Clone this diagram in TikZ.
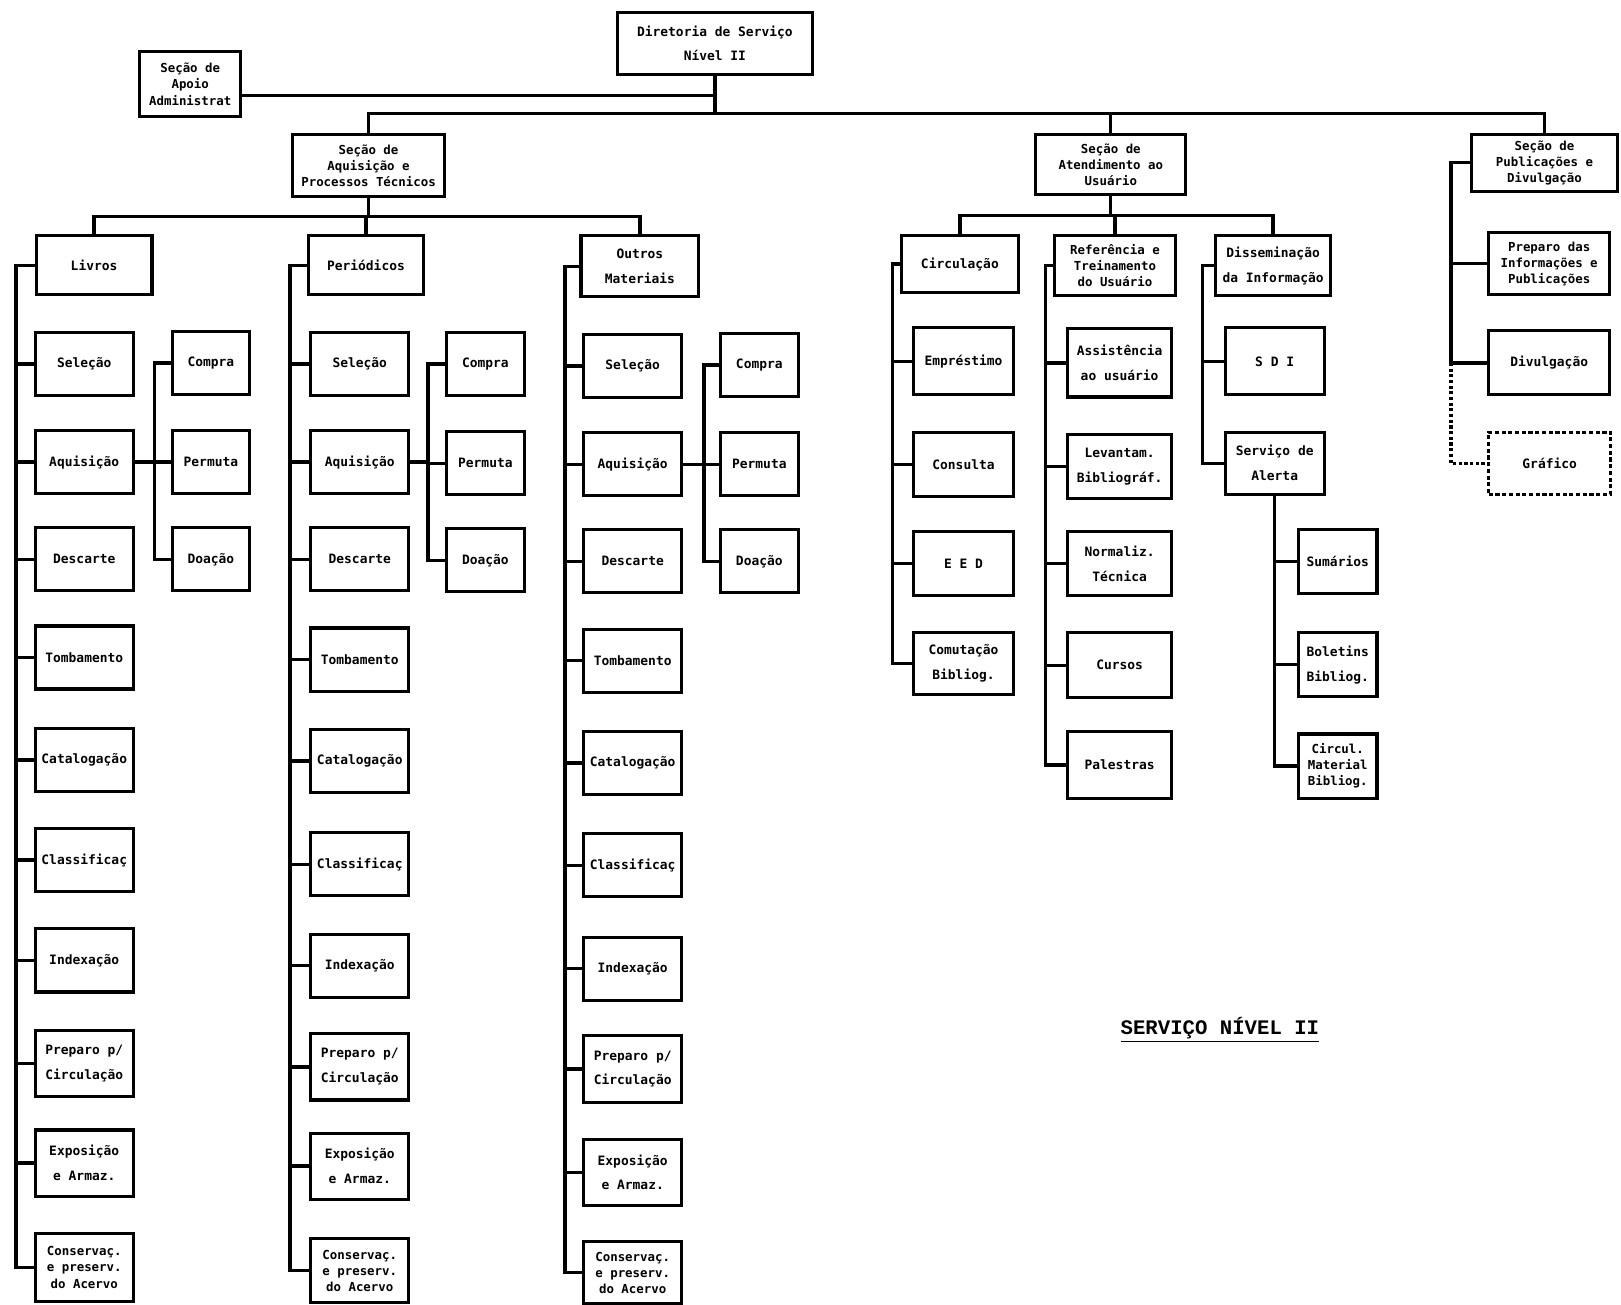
\documentclass[tikz,border=0pt]{standalone}
\usepackage{fontspec}
\usepackage{tikz}
\usetikzlibrary{positioning, calc}
\newfontfamily\printfont{DejaVu Sans Mono}
\newfontfamily\titlefont{Liberation Mono}

\begin{document}
\begin{tikzpicture}[
    x=1pt, y=-1pt,
    box/.style={
        draw,
        line width=3pt,
        fill=white,
        align=center,
        inner sep=2pt,
        minimum height=61pt,
        font=\printfont\bfseries\fontsize{12.5}{24}\selectfont
    },
    densebox/.style={
        box,
        font=\printfont\bfseries\fontsize{12}{15.5}\selectfont
    },
    colitem/.style={box, minimum width=95pt},
    subitem/.style={box, minimum width=75pt},
    dashbox/.style={
        box,
        dash pattern=on 4pt off 2.5pt
    },
    link/.style={line width=3.2pt},
    dotlink/.style={line width=3.2pt, dash pattern=on 3pt off 2.5pt},
    title/.style={font=\titlefont\bfseries\fontsize{20}{24}\selectfont}
]
    \useasboundingbox (0,0) rectangle (1568,1262);

    % Top level
    \node[box, minimum width=189pt, minimum height=60pt] (dir) at (691.5, 42) {Diretoria de Serviço\\Nível  II};
    \node[densebox, minimum width=98pt, minimum height=63pt] (apoio) at (184, 81.5) {Seção de\\Apoio\\Administrat};

    % Sections
    \node[densebox, minimum width=147pt, minimum height=60pt] (aqsec) at (356.5, 160) {Seção de\\Aquisição e\\Processos Técnicos};
    \node[densebox, minimum width=145pt, minimum height=58pt] (atsec) at (1074.5, 159) {Seção de\\Atendimento ao\\Usuário};
    \node[densebox, minimum width=142pt, minimum height=55pt] (pubsec) at (1494, 157.5) {Seção de\\Publicações e\\Divulgação};

    % Aquisição e Processos Técnicos
    \node[box, minimum width=112pt, minimum height=57pt] (livros) at (91, 256.5) {Livros};
    \node[box, minimum width=112pt, minimum height=57pt] (period) at (354, 256.5) {Periódicos};
    \node[box, minimum width=114pt, minimum height=59pt] (outros) at (619, 257.5) {Outros\\Materiais};

    % Livros
    \node[colitem] (lvsel) at (81.5, 352) {Seleção};
    \node[colitem] (lvaqu) at (81.5, 447) {Aquisição};
    \node[colitem] (lvdes) at (81.5, 541) {Descarte};
    \node[colitem] (lvtom) at (81.5, 636) {Tombamento};
    \node[colitem] (lvcat) at (81.5, 735) {Catalogação};
    \node[colitem] (lvcla) at (81.5, 832) {Classificaç};
    \node[colitem] (lvind) at (81.5, 929) {Indexação};
    \node[colitem, minimum height=64pt] (lvpre) at (81.5, 1029) {Preparo p/\\Circulação};
    \node[colitem, minimum height=64pt] (lvexp) at (81.5, 1125) {Exposição\\e Armaz.};
    \node[colitem, densebox, minimum height=66pt] (lvcon) at (81.5, 1226) {Conservaç.\\e preserv.\\do Acervo};
    \node[subitem] (lvcompra) at (204, 351) {Compra};
    \node[subitem] (lvpermuta) at (204, 447) {Permuta};
    \node[subitem] (lvdoacao) at (204, 541) {Doação};

    % Periódicos
    \node[colitem] (pdsel) at (348, 352) {Seleção};
    \node[colitem] (pdaqu) at (348, 447) {Aquisição};
    \node[colitem] (pddes) at (348, 541) {Descarte};
    \node[colitem] (pdtom) at (348, 638) {Tombamento};
    \node[colitem] (pdcat) at (348, 736) {Catalogação};
    \node[colitem] (pdcla) at (348, 836) {Classificaç};
    \node[colitem] (pdind) at (348, 934) {Indexação};
    \node[colitem, minimum height=64pt] (pdpre) at (348, 1032) {Preparo p/\\Circulação};
    \node[colitem, minimum height=64pt] (pdexp) at (348, 1128) {Exposição\\e Armaz.};
    \node[colitem, densebox, minimum height=62pt] (pdcon) at (348, 1229) {Conservaç.\\e preserv.\\do Acervo};
    \node[subitem] (pdcompra) at (469.5, 352) {Compra};
    \node[subitem] (pdpermuta) at (469.5, 448) {Permuta};
    \node[subitem] (pddoacao) at (469.5, 542) {Doação};

    % Outros Materiais
    \node[colitem] (otsel) at (612, 354) {Seleção};
    \node[colitem] (otaqu) at (612, 449) {Aquisição};
    \node[colitem] (otdes) at (612, 543) {Descarte};
    \node[colitem] (ottom) at (612, 639) {Tombamento};
    \node[colitem] (otcat) at (612, 738) {Catalogação};
    \node[colitem] (otcla) at (612, 837) {Classificaç};
    \node[colitem] (otind) at (612, 937) {Indexação};
    \node[colitem, minimum height=64pt] (otpre) at (612, 1034) {Preparo p/\\Circulação};
    \node[colitem, minimum height=64pt] (otexp) at (612, 1134) {Exposição\\e Armaz.};
    \node[colitem, densebox, minimum height=60pt] (otcon) at (612, 1231) {Conservaç.\\e preserv.\\do Acervo};
    \node[subitem] (otcompra) at (734.5, 353) {Compra};
    \node[subitem] (otpermuta) at (734.5, 449) {Permuta};
    \node[subitem] (otdoacao) at (734.5, 543) {Doação};

    % Atendimento ao Usuário
    \node[box, minimum width=113pt, minimum height=55pt] (circ) at (928.5, 255.5) {Circulação};
    \node[densebox, minimum width=117pt, minimum height=58pt] (refer) at (1078.5, 257) {Referência e\\Treinamento\\do Usuário};
    \node[box, minimum width=111pt, minimum height=58pt] (dissem) at (1231.5, 257) {Disseminação\\da Informação};

    \node[box, minimum width=96pt, minimum height=65pt] (emprest) at (932, 349.5) {Empréstimo};
    \node[box, minimum width=96pt, minimum height=62pt] (consulta) at (932, 449) {Consulta};
    \node[box, minimum width=96pt, minimum height=62pt] (eed) at (932, 545) {E E D};
    \node[box, minimum width=96pt, minimum height=60pt] (comut) at (932, 642) {Comutação\\Bibliog.};

    \node[box, minimum width=100pt, minimum height=66pt] (assist) at (1083, 351) {Assistência\\ao usuário};
    \node[box, minimum width=100pt, minimum height=62pt] (levant) at (1083, 451) {Levantam.\\Bibliográf.};
    \node[box, minimum width=100pt, minimum height=62pt] (normal) at (1083, 545) {Normaliz.\\Técnica};
    \node[box, minimum width=100pt, minimum height=63pt] (cursos) at (1083, 643.5) {Cursos};
    \node[box, minimum width=100pt, minimum height=64pt] (palest) at (1083, 740) {Palestras};

    \node[box, minimum width=96pt, minimum height=65pt] (sdi) at (1233, 349.5) {S D I};
    \node[box, minimum width=96pt, minimum height=60pt] (alerta) at (1233, 448) {Serviço de\\Alerta};

    \node[subitem, minimum width=76pt, minimum height=62pt] (sumarios) at (1294, 543) {Sumários};
    \node[subitem, minimum width=76pt, minimum height=62pt] (boletins) at (1294, 643) {Boletins\\Bibliog.};
    \node[subitem, densebox, minimum width=76pt, minimum height=62pt] (circmat) at (1294, 741) {Circul.\\Material\\Bibliog.};

    % Publicações e Divulgação
    \node[densebox, minimum width=117pt, minimum height=60pt] (preparo) at (1498.5, 255) {Preparo das\\Informações e\\Publicações};
    \node[box, minimum width=117pt, minimum height=62pt] (divulg) at (1498.5, 351) {Divulgação};
    \node[dashbox, minimum width=118pt, minimum height=60pt] (grafico) at (1499, 448) {Gráfico};

    % Title
    \node[title] (titulo) at (1180, 996) {\underline{SERVIÇO NÍVEL II}};

    % Connections

    % Diretoria -> Apoio and sections
    \draw[link] (dir.south) -- ++(0,36) coordinate (mainbus);
    \draw[link] ([yshift=-11pt]apoio.east) -- ([yshift=-11pt]apoio.east -| dir.south);
    \draw[link] (mainbus) -| (aqsec.north);
    \draw[link] (mainbus) -| (atsec.north);
    \draw[link] (mainbus) -| (pubsec.north);

    % Aquisição -> Livros / Periódicos / Outros
    \draw[link] (aqsec.south) -- ++(0,18) -| (livros.north);
    \draw[link] (aqsec.south) -- ++(0,18) -| (period.north);
    \draw[link] (aqsec.south) -- ++(0,18) -| (outros.north);

    % Livros column
    \draw[link] (livros.west) -- ++(-18,0) coordinate (lvspine) |- (lvcon.west);
    \draw[link] (lvsel.west) -- (lvsel.west -| lvspine)
                (lvaqu.west) -- (lvaqu.west -| lvspine)
                (lvdes.west) -- (lvdes.west -| lvspine)
                (lvtom.west) -- (lvtom.west -| lvspine)
                (lvcat.west) -- (lvcat.west -| lvspine)
                (lvcla.west) -- (lvcla.west -| lvspine)
                (lvind.west) -- (lvind.west -| lvspine)
                (lvpre.west) -- (lvpre.west -| lvspine)
                (lvexp.west) -- (lvexp.west -| lvspine);
    \draw[link] (lvaqu.east) -- ++(19,0) coordinate (lvsub) |- (lvcompra.west);
    \draw[link] (lvsub) |- (lvpermuta.west);
    \draw[link] (lvsub) |- (lvdoacao.west);

    % Periódicos column
    \draw[link] (period.west) -- ++(-16,0) coordinate (pdspine) |- (pdcon.west);
    \draw[link] (pdsel.west) -- (pdsel.west -| pdspine)
                (pdaqu.west) -- (pdaqu.west -| pdspine)
                (pddes.west) -- (pddes.west -| pdspine)
                (pdtom.west) -- (pdtom.west -| pdspine)
                (pdcat.west) -- (pdcat.west -| pdspine)
                (pdcla.west) -- (pdcla.west -| pdspine)
                (pdind.west) -- (pdind.west -| pdspine)
                (pdpre.west) -- (pdpre.west -| pdspine)
                (pdexp.west) -- (pdexp.west -| pdspine);
    \draw[link] (pdaqu.east) -- ++(17,0) coordinate (pdsub) |- (pdcompra.west);
    \draw[link] (pdsub) |- (pdpermuta.west);
    \draw[link] (pdsub) |- (pddoacao.west);

    % Outros Materiais column
    \draw[link] (outros.west) -- ++(-14,0) coordinate (otspine) |- (otcon.west);
    \draw[link] (otsel.west) -- (otsel.west -| otspine)
                (otaqu.west) -- (otaqu.west -| otspine)
                (otdes.west) -- (otdes.west -| otspine)
                (ottom.west) -- (ottom.west -| otspine)
                (otcat.west) -- (otcat.west -| otspine)
                (otcla.west) -- (otcla.west -| otspine)
                (otind.west) -- (otind.west -| otspine)
                (otpre.west) -- (otpre.west -| otspine)
                (otexp.west) -- (otexp.west -| otspine);
    \draw[link] (otaqu.east) -- ++(20,0) coordinate (otsub) |- (otcompra.west);
    \draw[link] (otsub) |- (otpermuta.west);
    \draw[link] (otsub) |- (otdoacao.west);

    % Atendimento -> Circulação / Referência / Disseminação
    \draw[link] (atsec.south) -- ++(0,19) -| (circ.north);
    \draw[link] (atsec.south) -- ++(0,19) -| (refer.north);
    \draw[link] (atsec.south) -- ++(0,19) -| (dissem.north);

    \draw[link] (circ.west) -- ++(-7,0) coordinate (cispine) |- (comut.west);
    \draw[link] (emprest.west) -- (emprest.west -| cispine)
                (consulta.west) -- (consulta.west -| cispine)
                (eed.west) -- (eed.west -| cispine);

    \draw[link] (refer.west) -- ++(-7,0) coordinate (rfspine) |- (palest.west);
    \draw[link] (assist.west) -- (assist.west -| rfspine)
                (levant.west) -- (levant.west -| rfspine)
                (normal.west) -- (normal.west -| rfspine)
                (cursos.west) -- (cursos.west -| rfspine);

    \draw[link] (dissem.west) -- ++(-11,0) coordinate (dsspine) |- (alerta.west);
    \draw[link] (sdi.west) -- (sdi.west -| dsspine);

    % Serviço de Alerta
    \draw[link] (alerta.south) |- (circmat.west);
    \draw[link] (alerta.south) |- (sumarios.west);
    \draw[link] (alerta.south) |- (boletins.west);

    % Publicações e Divulgação
    \draw[link] (pubsec.west) -- ++(-18,0) coordinate (pbspine) |- (divulg.west);
    \draw[link] (preparo.west) -- (preparo.west -| pbspine);
    \draw[dotlink] (pbspine |- divulg.west) |- (grafico.west);

\end{tikzpicture}
\end{document}
